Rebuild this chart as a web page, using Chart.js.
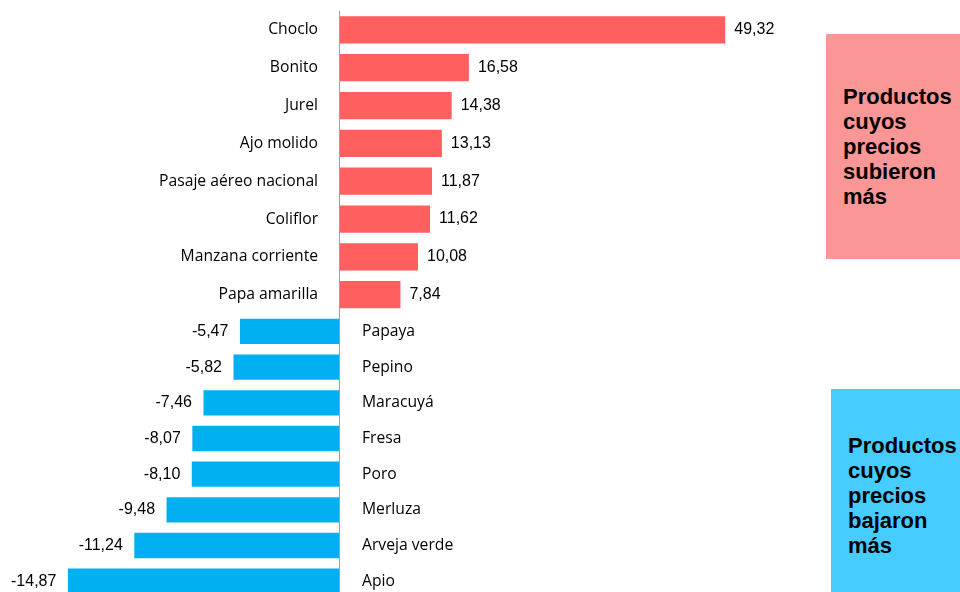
<!DOCTYPE html>
<html>
<head>
<meta charset="utf-8">
<script src="https://cdn.jsdelivr.net/npm/chart.js@4"></script>
<style>
  html, body { margin: 0; padding: 0; background: #fff; overflow: hidden; }
  .wrap { position: relative; width: 960px; height: 600px; }
  .box { position: absolute; font-family: "Liberation Sans", Arial, sans-serif; font-weight: bold;
         font-size: 22px; line-height: 25px; color: #000; box-sizing: border-box; }
  .up { left: 826px; top: 34px; width: 134px; height: 225px; background: #fa9696; padding: 50px 0 0 17px; }
  .down { left: 831px; top: 389px; width: 129px; height: 203px; background: #47ccff; padding: 44px 0 0 17px; }
</style>
</head>
<body>
<div class="wrap">
  <canvas id="chart-bars" width="960" height="600"></canvas>
  <div class="box up">Productos<br>cuyos<br>precios<br>subieron<br>más</div>
  <div class="box down">Productos<br>cuyos<br>precios<br>bajaron<br>más</div>
</div>
<script>
// products whose prices went up
const upLabels = ["Choclo", "Bonito", "Jurel", "Ajo molido", "Pasaje aéreo nacional", "Coliflor", "Manzana corriente", "Papa amarilla"];
const upValues = [49.32, 16.58, 14.38, 13.13, 11.87, 11.62, 10.08, 7.84];
// products whose prices went down
const downLabels = ["Papaya", "Pepino", "Maracuyá", "Fresa", "Poro", "Merluza", "Arveja verde", "Apio"];
const downValues = [-5.47, -5.82, -7.46, -8.07, -8.10, -9.48, -11.24, -14.87];

const fmt = v => v.toFixed(2).replace(".", ",");

const labelPlugin = {
  id: "barLabels",
  afterDatasetsDraw(chart) {
    const ctx = chart.ctx;
    ctx.save();
    ctx.textBaseline = "middle";
    chart.data.datasets.forEach((ds, i) => {
      const meta = chart.getDatasetMeta(i);
      const cats = i === 0 ? upLabels : downLabels;
      meta.data.forEach((bar, j) => {
        const v = ds.data[j];
        ctx.fillStyle = "#000";
        ctx.font = "15.7px 'Open Sans'";
        if (v >= 0) {
          ctx.textAlign = "right";
          ctx.fillText(cats[j], bar.base - 21, bar.y);
          ctx.font = "16px 'Liberation Sans'";
          ctx.textAlign = "left";
          ctx.fillText(fmt(v), bar.x + 9, bar.y);
        } else {
          ctx.textAlign = "left";
          ctx.fillText(cats[j], bar.base + 22, bar.y);
          ctx.font = "16px 'Liberation Sans'";
          ctx.textAlign = "right";
          ctx.fillText(fmt(v), bar.x - 11.5, bar.y);
        }
      });
    });
    // zero line
    const x0 = Math.round(chart.scales.x.getPixelForValue(0)) + 0.5;
    ctx.strokeStyle = "#a0a0a0";
    ctx.lineWidth = 1;
    ctx.beginPath();
    ctx.moveTo(x0, 11);
    ctx.lineTo(x0, chart.height);
    ctx.stroke();
    ctx.restore();
  }
};

var ctx1 = document.getElementById("chart-bars").getContext("2d");
new Chart(ctx1, {
  type: "bar",
  data: {
    datasets: [
      {
        data: upValues,
        backgroundColor: "#ff5f5f",
        xAxisID: "x",
        yAxisID: "y",
        grouped: false,
        categoryPercentage: 1,
        barPercentage: 0.72,
      },
      {
        data: downValues,
        backgroundColor: "#00b0f0",
        xAxisID: "x2",
        yAxisID: "y2",
        grouped: false,
        categoryPercentage: 1,
        barPercentage: 0.71,
      },
    ],
  },
  options: {
    indexAxis: "y",
    responsive: false,
    animation: false,
    layout: { padding: { top: 11, bottom: 1, left: 0, right: 0 } },
    plugins: {
      legend: { display: false },
      tooltip: { enabled: false },
    },
    scales: {
      x: { type: "linear", min: -43.3, max: 79.3, display: false },
      x2: { type: "linear", min: -18.58, max: 33.88, display: false },
      y2: {
        type: "category",
        labels: downLabels,
        stack: "rows",
        stackWeight: 286.2,
        display: false,
      },
      y: {
        type: "category",
        labels: upLabels,
        stack: "rows",
        stackWeight: 303.5,
        display: false,
      },
    },
  },
  plugins: [labelPlugin],
});
</script>
</body>
</html>
